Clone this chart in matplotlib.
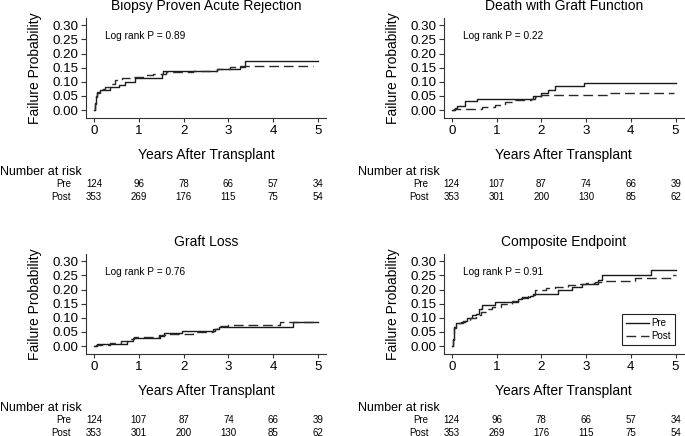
import matplotlib
matplotlib.use("Agg")
import matplotlib.pyplot as plt

plt.rcParams['font.family'] = ['Liberation Sans', 'DejaVu Sans']
plt.rcParams['lines.scale_dashes'] = False

# ---------------- data ----------------
titles = ["Biopsy Proven Acute Rejection", "Death with Graft Function",
          "Graft Loss", "Composite Endpoint"]
pvalues = ["0.89", "0.22", "0.76", "0.91"]
years = [0, 1, 2, 3, 4, 5]
yticks = [0.00, 0.05, 0.10, 0.15, 0.20, 0.25, 0.30]

bpar_pre_t = [0, 0.02, 0.04, 0.07, 0.13, 0.36, 0.55, 0.70, 0.92, 1.51, 1.55, 2.74, 3.26, 3.37, 5.0]
bpar_pre_p = [0, 0.025, 0.05, 0.065, 0.072, 0.08, 0.09, 0.10, 0.115, 0.128, 0.137, 0.147, 0.152, 0.175, 0.175]
bpar_post_t = [0, 0.02, 0.04, 0.07, 0.13, 0.25, 0.36, 0.47, 0.62, 0.84, 1.17, 1.32, 1.6, 2.2, 2.74, 3.04, 3.26, 4.9]
bpar_post_p = [0, 0.02, 0.045, 0.06, 0.075, 0.083, 0.094, 0.106, 0.112, 0.118, 0.124, 0.129, 0.134, 0.14, 0.147, 0.152, 0.155, 0.155]

dwgf_pre_t = [0, 0.07, 0.11, 0.3, 0.56, 1.82, 2.0, 2.16, 2.3, 2.96, 5.0]
dwgf_pre_p = [0, 0.008, 0.015, 0.033, 0.041, 0.05, 0.06, 0.07, 0.085, 0.097, 0.097]
dwgf_post_t = [0, 0.05, 0.67, 0.97, 1.2, 1.41, 1.78, 1.85, 2.0, 3.47, 4.96]
dwgf_post_p = [0, 0.004, 0.01, 0.018, 0.027, 0.035, 0.04, 0.047, 0.052, 0.062, 0.062]

gl_pre_t = [0, 0.06, 0.73, 0.86, 1.47, 1.56, 1.96, 2.7, 2.78, 4.45, 5.0]
gl_pre_p = [0, 0.009, 0.018, 0.027, 0.036, 0.045, 0.055, 0.06, 0.067, 0.084, 0.084]
gl_post_t = [0, 0.05, 0.35, 0.6, 0.8, 0.9, 1.45, 1.6, 2.2, 2.65, 2.75, 3.0, 4.15, 4.95]
gl_post_p = [0, 0.005, 0.01, 0.018, 0.025, 0.032, 0.038, 0.042, 0.05, 0.06, 0.07, 0.073, 0.087, 0.087]

comp_pre_t = [0, 0.02, 0.04, 0.06, 0.1, 0.2, 0.3, 0.35, 0.45, 0.55, 0.6, 0.68, 0.97, 1.49, 1.57,
              1.75, 1.82, 2.38, 2.68, 2.9, 3.27, 3.35, 4.46, 5.0]
comp_pre_p = [0, 0.025, 0.05, 0.068, 0.08, 0.085, 0.09, 0.1, 0.11, 0.115, 0.13, 0.147, 0.155, 0.168, 0.175,
              0.178, 0.186, 0.2, 0.21, 0.22, 0.233, 0.253, 0.27, 0.27]
comp_post_t = [0, 0.02, 0.04, 0.06, 0.1, 0.25, 0.4, 0.55, 0.65, 0.8, 0.9, 1.1, 1.35, 1.55, 1.7, 1.85,
               2.1, 2.3, 2.6, 2.8, 3.0, 3.2, 3.35, 4.1, 4.9, 5.0]
comp_post_p = [0, 0.02, 0.045, 0.065, 0.08, 0.09, 0.1, 0.11, 0.12, 0.13, 0.14, 0.15, 0.16, 0.17, 0.18, 0.2,
               0.205, 0.21, 0.215, 0.22, 0.225, 0.228, 0.232, 0.242, 0.25, 0.25]

risk_pre_a = [124, 96, 78, 66, 57, 34]
risk_post_a = [353, 269, 176, 115, 75, 54]
risk_pre_b = [124, 107, 87, 74, 66, 39]
risk_post_b = [353, 301, 200, 130, 85, 62]

panels = [
    (bpar_pre_t, bpar_pre_p, bpar_post_t, bpar_post_p, risk_pre_a, risk_post_a),
    (dwgf_pre_t, dwgf_pre_p, dwgf_post_t, dwgf_post_p, risk_pre_b, risk_post_b),
    (gl_pre_t, gl_pre_p, gl_post_t, gl_post_p, risk_pre_b, risk_post_b),
    (comp_pre_t, comp_pre_p, comp_post_t, comp_post_p, risk_pre_a, risk_post_a),
]

# ---------------- layout ----------------
W, H = 685, 436
fig = plt.figure(figsize=(W / 100, H / 100), dpi=100)
boxes = [(86, 18), (443.7, 18), (86, 254), (443.7, 254)]  # left, top in px
AW, AH = 240, 100
PT = 0.72  # points per pixel
line_col = '#1a1a1a'
spine_col = '#333333'

for i, ((l, t), title, pv, data) in enumerate(zip(boxes, titles, pvalues, panels)):
    ax = fig.add_axes([l / W, 1 - (t + AH) / H, AW / W, AH / H])
    pre_t, pre_p, post_t, post_p, rpre, rpost = data
    h1, = ax.step(pre_t, pre_p, where='post', color=line_col, lw=1.0, label='Pre')
    h2, = ax.step(post_t, post_p, where='post', color='#2a2a2a', lw=1.0,
                  dashes=(7, 3.5), label='Post')
    ax.set_xlim(-0.18, 5.18)
    ax.set_ylim(-0.028, 0.326)
    ax.set_xticks(years)
    ax.set_xticklabels([str(y) for y in years])
    ax.set_yticks(yticks)
    ax.set_yticklabels([f"{v:.2f}" for v in yticks])
    for s in ['top', 'right']:
        ax.spines[s].set_visible(False)
    for s in ['left', 'bottom']:
        ax.spines[s].set_color(spine_col)
        ax.spines[s].set_linewidth(0.8)
    ax.tick_params(axis='y', length=3.6, width=0.8, pad=1.7, labelsize=9.6, color=spine_col)
    ax.tick_params(axis='x', length=2.9, width=0.8, pad=1.8, labelsize=9.6, color=spine_col)

    ax.annotate(title, xy=(0.5, 1), xycoords='axes fraction', xytext=(0, 12 * PT),
                textcoords='offset points', ha='center', va='center', fontsize=10)
    ax.annotate(f"Log rank P = {pv}", xy=(0, 1), xycoords='axes fraction',
                xytext=(19 * PT, -18 * PT), textcoords='offset points',
                ha='left', va='center', fontsize=7.3)
    ax.text(-51 / AW, 0.5, "Failure Probability", transform=ax.transAxes,
            rotation=90, ha='center', va='center', fontsize=10)
    ax.annotate("Years After Transplant", xy=(0.5, 0), xycoords='axes fraction',
                xytext=(0, -37 * PT), textcoords='offset points',
                ha='center', va='center', fontsize=10)
    ax.annotate("Number at risk", xy=(0, 0), xycoords='axes fraction',
                xytext=(-86 * PT, -53.7 * PT), textcoords='offset points',
                ha='left', va='center', fontsize=9)
    for lab, dy in (("Pre", 66.3), ("Post", 78.5)):
        ax.annotate(lab, xy=(0, 0), xycoords='axes fraction',
                    xytext=(-15 * PT, -dy * PT), textcoords='offset points',
                    ha='right', va='center', fontsize=7)
    xt = ax.get_xaxis_transform()
    for yv, a, b in zip(years, rpre, rpost):
        ax.annotate(str(a), xy=(yv, 0), xycoords=xt, xytext=(0, -66.3 * PT),
                    textcoords='offset points', ha='center', va='center', fontsize=7)
        ax.annotate(str(b), xy=(yv, 0), xycoords=xt, xytext=(0, -78.5 * PT),
                    textcoords='offset points', ha='center', va='center', fontsize=7)

    if i == 3:
        leg = ax.legend(handles=[h1, h2], loc='lower right',
                        bbox_to_anchor=((675 - l) / AW, 8.7 / AH),
                        fontsize=7, frameon=True, fancybox=False, framealpha=1,
                        edgecolor='#222222', handlelength=2.3, handletextpad=0.25,
                        labelspacing=0.28, borderpad=0.45, borderaxespad=0)
        leg.get_frame().set_linewidth(0.8)

fig.savefig("out.png", dpi=100)
